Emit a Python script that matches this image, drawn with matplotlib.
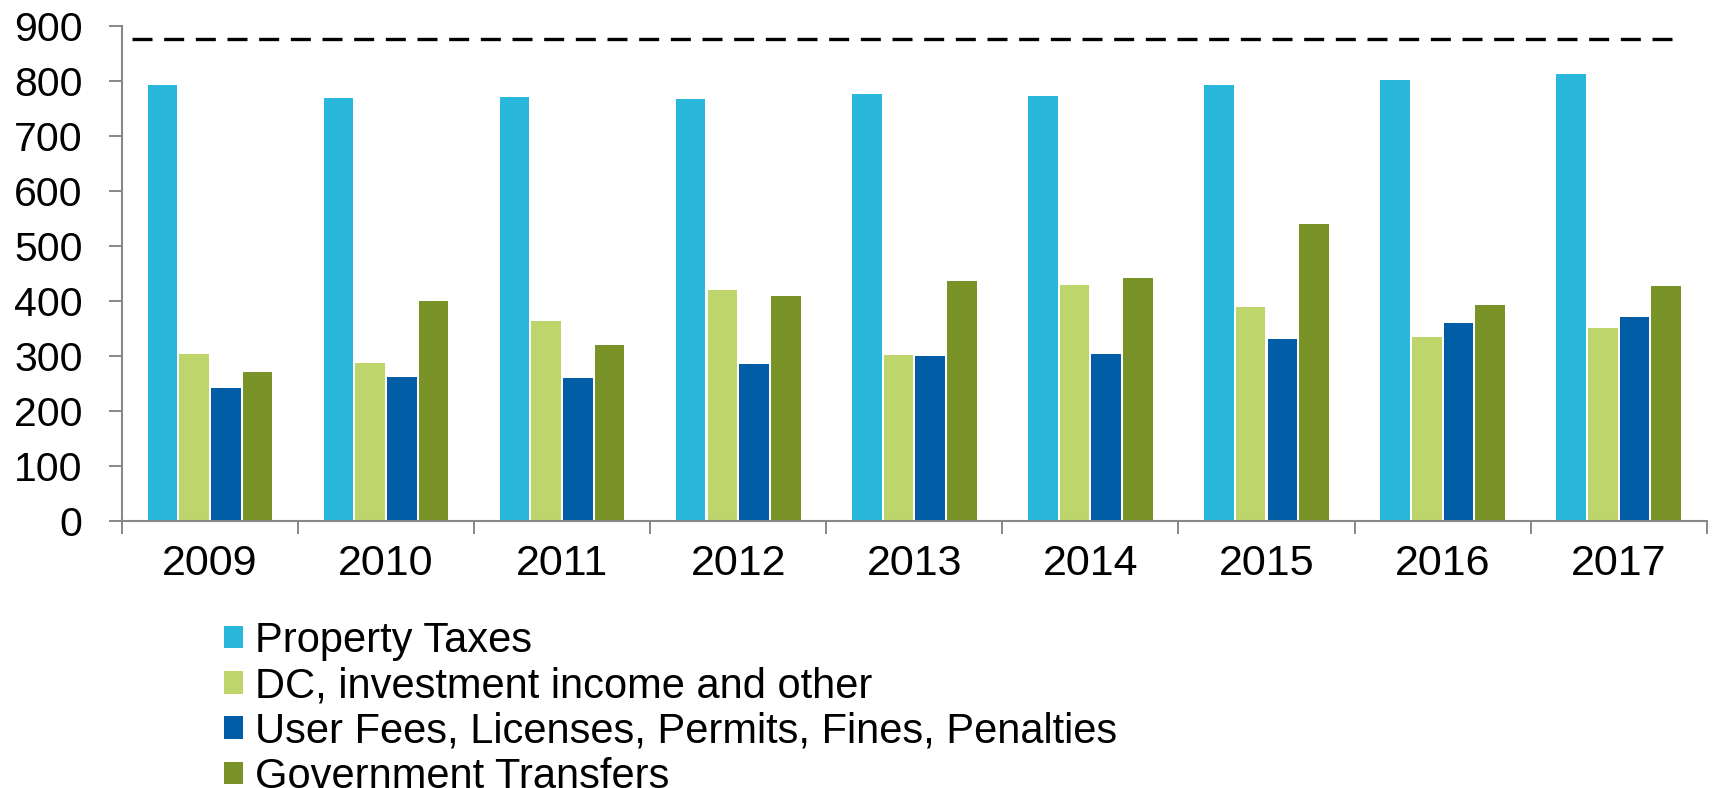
import numpy as np
import matplotlib.pyplot as plt
from matplotlib.patches import Patch

plt.rcParams['font.family'] = ['Liberation Sans', 'DejaVu Sans']

years = ['2009', '2010', '2011', '2012', '2013', '2014', '2015', '2016', '2017']
series_names = ['Property Taxes', 'DC, investment income and other',
                'User Fees, Licenses, Permits, Fines, Penalties', 'Government Transfers']
property_taxes = [793, 769, 770, 768, 776, 773, 793, 802, 813]
dc_other = [303, 287, 363, 419, 301, 429, 389, 334, 350]
user_fees = [241, 262, 259, 286, 300, 303, 331, 360, 371]
gov_transfers = [271, 400, 319, 409, 436, 441, 539, 392, 427]
threshold = 877

colors = ['#29B8DB', '#BED56B', '#005DA6', '#7A9328']
values = [property_taxes, dc_other, user_fees, gov_transfers]

fig = plt.figure(figsize=(17.17, 7.88), dpi=100)
ax = fig.add_axes([0.071, 0.339, 0.923, 0.628])

x = np.arange(len(years))
step = 0.18
for i, (vals, c) in enumerate(zip(values, colors)):
    ax.bar(x + (i - 1.5) * step, vals, width=0.168, color=c, zorder=2)

ax.hlines(threshold, -0.44, 8.32, colors='black', linewidth=2.4,
          linestyles=(0, (6, 3.5)), zorder=3)

ax.set_xlim(-0.5, len(years) - 0.5)
ax.set_ylim(0, 900)
ax.set_yticks(range(0, 901, 100))
ax.set_xticks(x)
ax.set_xticklabels(years)
ax.set_xticks(np.arange(-0.5, len(years)), minor=True)
ax.tick_params(axis='x', which='major', length=0, pad=17, labelsize=31)
ax.tick_params(axis='x', which='minor', length=9, width=1.4, color='#888888')
ax.tick_params(axis='y', length=9.4, width=1.4, color='#888888', labelsize=29.5, pad=19)

for s in ['top', 'right']:
    ax.spines[s].set_visible(False)
for s in ['left', 'bottom']:
    ax.spines[s].set_color('#888888')
    ax.spines[s].set_linewidth(1.5)

handles = [Patch(facecolor=c) for c in colors]
fig.legend(handles, series_names, loc='upper left', bbox_to_anchor=(0.1305, 0.212),
           frameon=False, fontsize=30, handlelength=0.45, handleheight=0.45,
           handletextpad=0.3, labelspacing=0.125, borderpad=0, borderaxespad=0)

fig.savefig('out.png', dpi=100)
